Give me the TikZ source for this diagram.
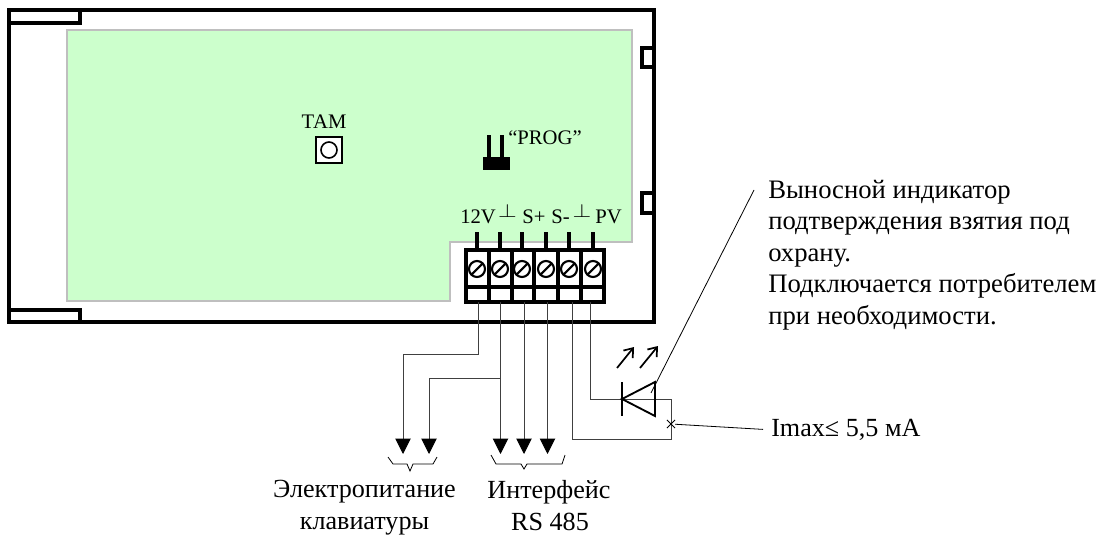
\documentclass[tikz,border=0pt]{standalone}
\usepackage{fontspec}
\setmainfont{Liberation Serif}
\usetikzlibrary{arrows.meta,shapes.misc}
\definecolor{boardgreen}{RGB}{204,255,204}
\tikzset{
  wall/.style={line width=2.4pt,line join=miter},
  board/.style={fill=boardgreen,draw=black!25,line width=1pt},
  pin/.style={line width=2.6pt},
  wire/.style={line width=0.7pt,draw=black!75},
  feed/.style={wire,-{Triangle[length=11.5pt,width=11.5pt,black]}},
  brace/.style={line width=0.6pt},
  lead/.style={line width=0.6pt},
  led/.style={line width=1.3pt,-{Straight Barb[length=6pt,width=9pt]}},
  lbl/.style={inner sep=0pt,font=\fontsize{15.5}{18}\selectfont},
  txt/.style={inner sep=0pt,font=\fontsize{19.6}{23.7}\selectfont}
}
\begin{document}
\begin{tikzpicture}[x=0.75pt,y=-0.75pt]
  \useasboundingbox (0,0) rectangle (1102,535);

  \draw[board] (67,30) -- (632,30) -- (632,242) -- (450,242) -- (450,301) -- (67,301) -- cycle;

  \draw[wall] (9,10) rectangle (654,322);
  \draw[wall] (9,23) -- (80,23) -- (80,10);
  \draw[wall] (9,310) -- (80,310) -- (80,322);
  \draw[wall] (654,48) -- (642,48) -- (642,67) -- (654,67);
  \draw[wall] (654,193) -- (642,193) -- (642,213) -- (654,213);

  \draw[line width=1.2pt,fill=white] (316,137) rectangle (342,163);
  \draw[line width=1.2pt] (329,150) circle (6pt);
  \node[lbl] (tam) at (324,122) {ТАМ};

  \draw[line width=3pt] (489,135) -- (489,160);
  \draw[line width=3pt] (502,135) -- (502,160);
  \fill (483,157) rectangle (510,170);
  \node[lbl,anchor=base west] (prog) at (508,144) {“PROG”};

  % terminal block
  \draw[wall,fill=white] (466,250) rectangle (604,302);
  \draw[wall] (466,287) -- (604,287);
  \foreach \x in {489,512,534,558,581}
    \draw[wall] (\x,250) -- (\x,302);
  \foreach \i/\x/\w in {1/477/478,2/500/500.5,3/522/524,4/546/547.5,5/569/572,6/593/590.5} {
    \draw[pin] (\x,232) -- (\x,250);
    \draw[line width=1.6pt,fill=white] (\x,269) circle (6pt);
    \draw[line width=1.6pt] (\x,269) ++(-5.5,5.5) -- ++(11,-11);
    \coordinate (w\i) at (\w,302);
  }
  \foreach \x/\t in {460/12V,522/S+,551/S-,595/PV}
    \node[lbl,anchor=base west] at (\x,223) {\t};
  \foreach \x in {507.5,582}
    \node[lbl,anchor=base,xscale=1.25] at (\x,217) {$\perp$};

  % wires
  \coordinate (tipa) at (403,454);
  \coordinate (tipb) at (429,454);
  \coordinate (tipc) at (500.5,454);
  \coordinate (tipd) at (524,454);
  \coordinate (tipe) at (547.5,454);
  \draw[feed] (w1) |- (403,354) -- (tipa);
  \draw[feed] (w2) -- (tipc);
  \draw[feed] (500.5,378) -| (tipb);
  \draw[feed] (w3) -- (tipd);
  \draw[feed] (w4) -- (tipe);
  \draw[wire] (w5) |- (671,439) -- (671,399);
  \draw[wire] (w6) |- (671,399);

  \draw[brace] (388,457) -- (393,464) -- (407,464) -- (410,471) -- (413,464) -- (433,464) -- (437,457);
  \draw[brace] (491,455) -- (496,464) -- (521,464) -- (524,469) -- (527,464) -- (562,464) -- (565,455);
  \node[txt,anchor=base] (power) at (364.5,497) {Электропитание};
  \node[txt,anchor=base] (power2) at (364.5,529) {клавиатуры};
  \node[txt,anchor=base] (rs) at (549,498) {Интерфейс};
  \node[txt,anchor=base] (rs2) at (550,530) {RS 485};

  % diode
  \draw[line width=1.4pt] (622,382) -- (622,416);
  \draw[line width=1.4pt] (655,382) -- (622,399) -- (655,416) -- cycle;
  \draw[led] (617,368) -- (634,347);
  \draw[led] (640,368) -- (658,346);

  \coordinate (ledtop) at (754,190);
  \draw[lead] (651,393) -- (ledtop);
  \node[txt,anchor=north west,align=left,font=\fontsize{20}{23.7}\selectfont] (note) at (768,179.6) {Выносной индикатор\\подтверждения взятия под\\охрану.\\Подключается потребителем\\при необходимости.};

  \node[cross out,draw,line width=0.6pt,minimum size=5.5pt,inner sep=0pt] (xm) at (671,424) {};
  \node[txt,anchor=base west] (imax) at (771,436) {Imax≤ 5,5 мА};
  \draw[lead] (xm) -- ([xshift=-6pt]imax.west);
\end{tikzpicture}
\end{document}
